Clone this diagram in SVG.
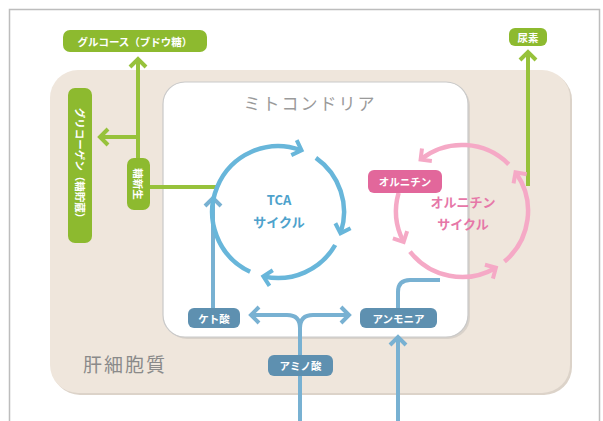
<svg xmlns="http://www.w3.org/2000/svg" width="603" height="421" viewBox="0 0 603 421">
<defs>
<style>
.lbl{font-family:"Noto Sans CJK JP","Noto Sans",sans-serif;font-size:10.5px;font-weight:bold;fill:#fff;text-anchor:middle;dominant-baseline:central}
.g{fill:#8dba2f}
.b{fill:#5e90b0}
.p{fill:#e2679b}
.gl{stroke:#97c23b;stroke-width:4;fill:none}
.bl{stroke:#78b1d2;stroke-width:4;fill:none}
.tca{stroke:#68b6da;stroke-width:4.5;fill:none}
.orn{stroke:#f5a9c6;stroke-width:4.5;fill:none}
.big{font-family:"Noto Sans CJK JP","Noto Sans",sans-serif;text-anchor:middle}
</style>
<marker id="ag" markerUnits="userSpaceOnUse" markerWidth="20" markerHeight="20" refX="9" refY="10" orient="auto" viewBox="0 0 20 20"><path d="M2,2 L10,10 L2,18" fill="none" stroke="#97c23b" stroke-width="4"/></marker>
<marker id="ab" markerUnits="userSpaceOnUse" markerWidth="20" markerHeight="20" refX="9" refY="10" orient="auto" viewBox="0 0 20 20"><path d="M2,2 L10,10 L2,18" fill="none" stroke="#78b1d2" stroke-width="4"/></marker>
<marker id="at" markerUnits="userSpaceOnUse" markerWidth="20" markerHeight="20" refX="9" refY="10" orient="auto" viewBox="0 0 20 20"><path d="M2,2 L10,10 L2,18" fill="none" stroke="#68b6da" stroke-width="4"/></marker>
<marker id="ap" markerUnits="userSpaceOnUse" markerWidth="20" markerHeight="20" refX="9" refY="10" orient="auto" viewBox="0 0 20 20"><path d="M2,2 L10,10 L2,18" fill="none" stroke="#f5a9c6" stroke-width="4"/></marker>
</defs>
<rect x="9.5" y="9.5" width="590" height="420" fill="#fff" stroke="#bdbdbd" stroke-width="1.5"/>
<g id="cytoplasm">
<rect x="52" y="72" width="520" height="323" rx="28" fill="#dcd3c9"/>
<rect x="50" y="70" width="520" height="323" rx="28" fill="#efe6dc"/>
<text class="big" x="125" y="372" font-size="19" fill="#8a8a8a" letter-spacing="2">肝細胞質</text>
</g>
<g id="mitochondria">
<rect x="165" y="84" width="305" height="255" rx="22" fill="#d9d2ca"/>
<rect x="163" y="82" width="305" height="255" rx="22" fill="#fff" stroke="#c9c9c9" stroke-width="1.2"/>
<text class="big" x="310" y="110" font-size="17" fill="#9a9a9a" letter-spacing="2">ミトコンドリア</text>
</g>
<g id="connectors">
<path class="gl" d="M150,187 L216,187"/>
<path class="gl" d="M138,158 L138,60" marker-end="url(#ag)"/>
<path class="gl" d="M138,137 L101,137" marker-end="url(#ag)"/>
<path class="gl" d="M528,186 L528,53" marker-end="url(#ag)"/>
<path class="bl" d="M300,421 L300,328 Q300,315 287,315 L252,315" marker-end="url(#ab)"/>
<path class="bl" d="M300,328 Q300,315 313,315 L348,315" marker-end="url(#ab)"/>
<path class="bl" d="M398,421 L398,338" marker-end="url(#ab)"/>
<path class="bl" d="M398,310 L398,292 Q398,280 410,280 L440,280"/>
<path class="bl" d="M213,310 L213,199" marker-end="url(#ab)"/>
</g>
<g id="tca-cycle">
<path class="tca" d="M250.1,271.8 A66,66 0 0 1 300.6,150.0" marker-end="url(#at)"/>
<path class="tca" d="M315.9,157.9 A66,66 0 0 1 340.8,232.4" marker-end="url(#at)"/>
<path class="tca" d="M335.2,245.0 A66,66 0 0 1 264.3,276.6" marker-end="url(#at)"/>
<text class="big" x="279" y="205" font-size="13" font-weight="bold" fill="#4ea2cc">TCA</text>
<text class="big" x="279" y="227" font-size="13" font-weight="bold" fill="#4ea2cc">サイクル</text>
</g>
<g id="ornithine-cycle">
<path class="orn" d="M508.7,164.3 A66,66 0 0 0 421.4,159.0" marker-end="url(#ap)"/>
<path class="orn" d="M398.6,192.8 A66,66 0 0 0 403.2,241.0" marker-end="url(#ap)"/>
<path class="orn" d="M410.0,251.6 A66,66 0 0 0 495.0,268.2" marker-end="url(#ap)"/>
<path class="orn" d="M504.4,261.6 A66,66 0 0 0 516.1,173.1" marker-end="url(#ap)"/>
<text class="big" x="463" y="207" font-size="13" font-weight="bold" fill="#e677a8">オルニチン</text>
<text class="big" x="463" y="229" font-size="13" font-weight="bold" fill="#e677a8">サイクル</text>
</g>
<g id="ornithine"><rect class="p" x="368" y="170" width="74" height="23" rx="6"/><text class="lbl" x="405" y="181.5">オルニチン</text></g>
<g id="glucose"><rect class="g" x="63" y="30" width="144" height="22" rx="7"/><text class="lbl" x="135" y="41">グルコース（ブドウ糖）</text></g>
<g id="urea"><rect class="g" x="509" y="28" width="38" height="18" rx="6"/><text class="lbl" x="528" y="37">尿素</text></g>
<g id="glycogen"><rect class="g" x="68" y="88" width="24" height="155" rx="7"/><text class="lbl" transform="translate(80,165.5) rotate(90)">グリコーゲン（糖貯蔵）</text></g>
<g id="gluconeogenesis"><rect class="g" x="127" y="158" width="23" height="52" rx="7"/><text class="lbl" transform="translate(138.5,184) rotate(90)">糖新生</text></g>
<g id="keto-acid"><rect class="b" x="188" y="308" width="52" height="20" rx="6"/><text class="lbl" x="214" y="318">ケト酸</text></g>
<g id="ammonia"><rect class="b" x="360" y="308" width="77" height="20" rx="6"/><text class="lbl" x="398.5" y="318">アンモニア</text></g>
<g id="amino-acid"><rect class="b" x="268" y="355" width="65" height="21" rx="6"/><text class="lbl" x="300.5" y="365.5">アミノ酸</text></g>
</svg>
